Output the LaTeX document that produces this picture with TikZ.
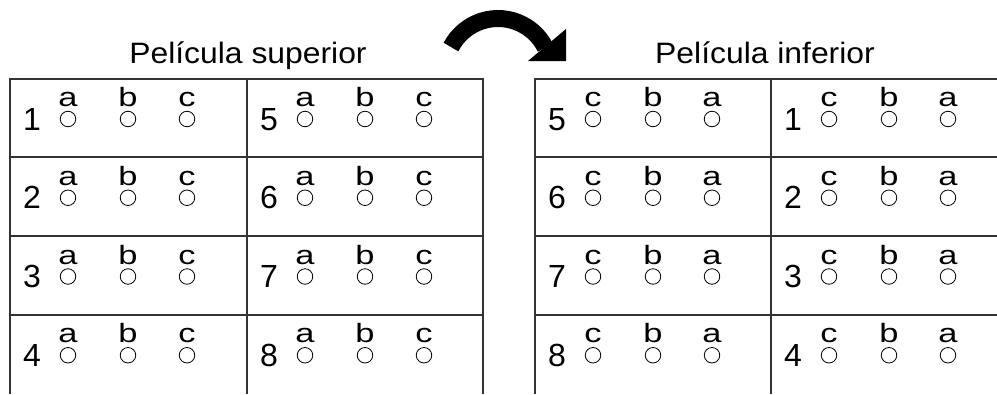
\documentclass[tikz,border=0pt]{standalone}
\usepackage{fontspec}
\setmainfont{Liberation Sans}
\begin{document}
\begin{tikzpicture}[x=1pt,y=-1pt,
  gridline/.style={line width=1.2pt, draw=black!80},
  numtxt/.style={anchor=base, inner sep=0pt, font=\fontsize{32}{32}\selectfont},
  lettxt/.style={anchor=base, inner sep=0pt, font=\fontsize{26.5}{26.5}\selectfont},
  titletxt/.style={anchor=base, inner sep=0pt, font=\fontsize{29.5}{30}\selectfont},
  hole/.style={circle, draw=black, line width=0.8pt, minimum size=15.5pt, inner sep=0pt}]
\useasboundingbox (0,0) rectangle (997,394);
% titles
\node[titletxt] (tl) at (248,63) {\scalebox{1.08}[1]{Película superior}};
\node[titletxt] (tr) at (765,63) {\scalebox{1.08}[1]{Película inferior}};
% left table
\draw[gridline] (10,394) -- (10,79) -- (483,79) -- (483,394);
\draw[gridline] (247,79) -- (247,394);
\foreach \y in {157,236,315} \draw[gridline] (10,\y) -- (483,\y);
% right table
\draw[gridline] (535,394) -- (535,79) -- (997,79);
\draw[gridline] (771,79) -- (771,394);
\foreach \y in {157,236,315} \draw[gridline] (535,\y) -- (997,\y);
% cells
\foreach \x/\n/\la/\lb/\lc [count=\i] in {
  10/1/a/b/c, 10/2/a/b/c, 10/3/a/b/c, 10/4/a/b/c,
  247/5/a/b/c, 247/6/a/b/c, 247/7/a/b/c, 247/8/a/b/c,
  535/5/c/b/a, 535/6/c/b/a, 535/7/c/b/a, 535/8/c/b/a,
  771/1/c/b/a, 771/2/c/b/a, 771/3/c/b/a, 771/4/c/b/a}{
  \pgfmathsetmacro{\yy}{79+78.75*mod(\i-1,4)}
  \node[numtxt] (n\i) at (\x+22,\yy+51) {\n};
  \node[lettxt] (la\i) at (\x+58,\yy+27.5) {\scalebox{1.3}[1]{\la}};
  \node[lettxt] (lb\i) at (\x+118,\yy+27.5) {\scalebox{1.3}[1]{\lb}};
  \node[lettxt] (lc\i) at (\x+177,\yy+27.5) {\scalebox{1.3}[1]{\lc}};
  \node[hole] (ha\i) at (\x+58,\yy+40) {};
  \node[hole] (hb\i) at (\x+118,\yy+40) {};
  \node[hole] (hc\i) at (\x+177,\yy+40) {};
}
% curved arrow
\coordinate (ac) at (498,71.5);
\draw[line width=17pt] ([shift={(-152.5:53)}]ac) arc[start angle=-152.5, end angle=-27, radius=53];
\fill (528,61) -- (566,61) -- (566,29) -- cycle;
\end{tikzpicture}
\end{document}
